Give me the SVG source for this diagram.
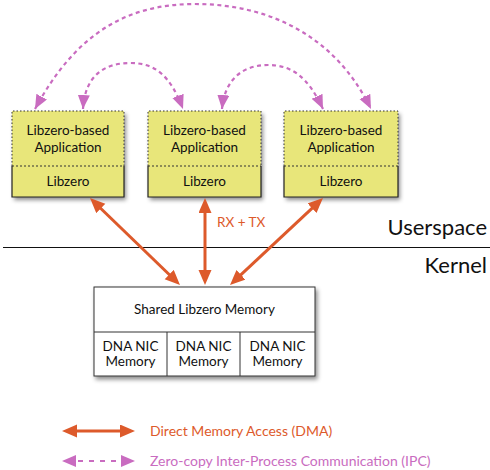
<svg xmlns="http://www.w3.org/2000/svg" width="490" height="470" viewBox="0 0 490 470">
<style>
text{font-family:Lato,"Liberation Sans",sans-serif;fill:#111}
.t{font-size:13.5px;text-anchor:middle}
.app{fill:#E8E67A;stroke:none}
.dot{fill:none;stroke:#333;stroke-width:1;stroke-dasharray:1.5 2}
.sol{fill:none;stroke:#222;stroke-width:1.2}
.dma{stroke:#DD5A2B;stroke-width:3;fill:none;marker-start:url(#oa);marker-end:url(#oa)}
.ipc{stroke:#C96CC0;stroke-width:2.2;fill:none;stroke-dasharray:4 3.5;marker-start:url(#pa);marker-end:url(#pa)}
.mem{fill:#fff;stroke:#333;stroke-width:1}
.big{font-size:22px;text-anchor:end}
.lg{font-size:14px}
</style>
<defs>
<marker id="oa" markerUnits="userSpaceOnUse" markerWidth="16" markerHeight="14" refX="5" refY="6.5" orient="auto-start-reverse"><path d="M0,0 L15,6.5 L0,13 z" fill="#DD5A2B"/></marker>
<marker id="pa" markerUnits="userSpaceOnUse" markerWidth="16" markerHeight="14" refX="14" refY="6" orient="auto-start-reverse"><path d="M0,0 L14,6 L0,12 z" fill="#C96CC0"/></marker>
<filter id="sh" x="-10%" y="-10%" width="130%" height="140%"><feDropShadow dx="2" dy="3" stdDeviation="2" flood-color="#000" flood-opacity="0.45"/></filter>
</defs>

<g id="app1">
<rect x="12" y="111" width="112" height="86" class="app" filter="url(#sh)"/>
<path d="M12,166 V111 H124 V166" class="dot"/>
<line x1="12" y1="166" x2="124" y2="166" stroke="#333" stroke-dasharray="2 2"/>
<path d="M12,166 V197 H124 V166" class="sol"/>
<text x="68" y="135" class="t">Libzero-based</text>
<text x="68" y="152" class="t">Application</text>
<text x="68" y="186" class="t">Libzero</text>
</g>
<g id="app2">
<rect x="148" y="111" width="113" height="86" class="app" filter="url(#sh)"/>
<path d="M148,166 V111 H261 V166" class="dot"/>
<line x1="148" y1="166" x2="261" y2="166" stroke="#333" stroke-dasharray="2 2"/>
<path d="M148,166 V197 H261 V166" class="sol"/>
<text x="204.5" y="135" class="t">Libzero-based</text>
<text x="204.5" y="152" class="t">Application</text>
<text x="204.5" y="186" class="t">Libzero</text>
</g>
<g id="app3">
<rect x="284" y="111" width="114" height="86" class="app" filter="url(#sh)"/>
<path d="M284,166 V111 H398 V166" class="dot"/>
<line x1="284" y1="166" x2="398" y2="166" stroke="#333" stroke-dasharray="2 2"/>
<path d="M284,166 V197 H398 V166" class="sol"/>
<text x="341" y="135" class="t">Libzero-based</text>
<text x="341" y="152" class="t">Application</text>
<text x="341" y="186" class="t">Libzero</text>
</g>

<g id="memory">
<rect x="94" y="287" width="221" height="89" class="mem" filter="url(#sh)"/>
<line x1="94" y1="332" x2="315" y2="332" stroke="#333"/>
<line x1="167" y1="332" x2="167" y2="376" stroke="#333"/>
<line x1="240" y1="332" x2="240" y2="376" stroke="#333"/>
<text x="204.5" y="314" class="t">Shared Libzero Memory</text>
<text x="130.5" y="351" class="t">DNA NIC</text>
<text x="130.5" y="366" class="t">Memory</text>
<text x="203.5" y="351" class="t">DNA NIC</text>
<text x="203.5" y="366" class="t">Memory</text>
<text x="277.5" y="351" class="t">DNA NIC</text>
<text x="277.5" y="366" class="t">Memory</text>
</g>

<g id="divider">
<line x1="3" y1="247.5" x2="490" y2="247.5" stroke="#111" stroke-width="1.2"/>
<text x="487" y="235" class="big">Userspace</text>
<text x="487" y="273" class="big">Kernel</text>
</g>

<g id="connectors">
<line x1="97.2" y1="205" x2="172.8" y2="278" class="dma"/>
<line x1="205" y1="208" x2="205" y2="275" class="dma"/>
<line x1="315.7" y1="204.8" x2="237.3" y2="278.2" class="dma"/>
<text x="217" y="227" style="font-size:13.5px;fill:#DD5A2B">RX + TX</text>
<path d="M35,109 C75,35 125,4 195,4 C268,4 335,35 371,109" class="ipc"/>
<path d="M83,109 C85,75 105,63 130,63 C155,63 170,75 183,109" class="ipc"/>
<path d="M222,109 C225,77 245,65 268,65 C292,65 308,77 323,109" class="ipc"/>
</g>

<g id="legend">
<line x1="72" y1="431" x2="125" y2="431" class="dma"/>
<line x1="78" y1="461" x2="121" y2="461" class="ipc" style="marker:none;stroke-dasharray:5 6"/>
<path d="M62,461 L76,455 L76,467 z" fill="#C96CC0"/>
<path d="M121,455 L135,461 L121,467 z" fill="#C96CC0"/>
<text x="150" y="436" class="lg" style="fill:#DD5A2B">Direct Memory Access (DMA)</text>
<text x="150" y="466" class="lg" style="fill:#C96CC0">Zero-copy Inter-Process Communication (IPC)</text>
</g>
</svg>
